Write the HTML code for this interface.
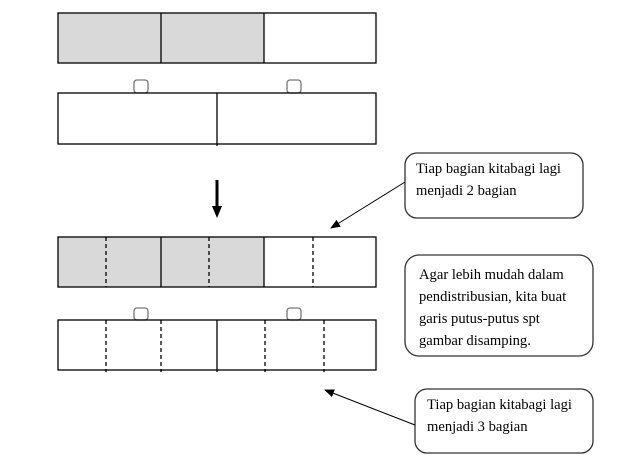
<!DOCTYPE html>
<html><head><style>
body{margin:0;background:#fff;width:641px;height:475px;overflow:hidden;position:relative;font-family:"Liberation Serif",serif;}
.t{position:absolute;font-size:14.6px;line-height:22px;color:#000;white-space:nowrap;}
</style></head><body>
<svg width="641" height="475" style="position:absolute;left:0;top:0">
<defs><marker id="a" markerWidth="10" markerHeight="8" refX="9" refY="4" orient="auto" markerUnits="userSpaceOnUse"><path d="M0,0 L10,4 L0,8z" fill="#000"/></marker></defs>
<g stroke="#000" stroke-width="1.3" fill="none">
<rect x="58" y="13" width="103" height="50" fill="#d9d9d9" stroke="none"/>
<rect x="161" y="13" width="103" height="50" fill="#d9d9d9" stroke="none"/>
<rect x="58" y="13" width="318" height="50"/>
<line x1="161" y1="13" x2="161" y2="63"/><line x1="264" y1="13" x2="264" y2="63"/>
<rect x="134" y="80" width="14" height="13" rx="3" stroke="#777"/>
<rect x="287" y="80" width="14" height="13" rx="3" stroke="#777"/>
<rect x="58" y="93" width="318" height="51"/>
<line x1="217" y1="93" x2="217" y2="146"/>
<rect x="58" y="237" width="206" height="50" fill="#d9d9d9" stroke="none"/>
<rect x="58" y="237" width="318" height="50"/>
<line x1="161" y1="237" x2="161" y2="287"/><line x1="264" y1="237" x2="264" y2="287"/>
<g stroke-dasharray="4,3"><line x1="106" y1="237" x2="106" y2="287"/><line x1="209" y1="237" x2="209" y2="287"/><line x1="313" y1="237" x2="313" y2="287"/></g>
<rect x="134" y="308" width="14" height="12" rx="3" stroke="#777"/>
<rect x="287" y="308" width="14" height="12" rx="3" stroke="#777"/>
<rect x="58" y="320" width="318" height="50"/>
<line x1="217" y1="320" x2="217" y2="372"/>
<g stroke-dasharray="4,3"><line x1="106" y1="320" x2="106" y2="372"/><line x1="161" y1="320" x2="161" y2="372"/><line x1="265" y1="320" x2="265" y2="372"/><line x1="324" y1="320" x2="324" y2="372"/></g>
<rect x="405" y="153" width="178" height="65" rx="12" stroke="#333"/>
<rect x="405" y="255" width="188" height="101" rx="14" stroke="#333"/>
<rect x="415" y="389" width="178" height="64" rx="12" stroke="#333"/>
<line x1="405" y1="182" x2="331" y2="228" stroke-width="1" marker-end="url(#a)"/>
<line x1="415" y1="425" x2="325" y2="390" stroke-width="1" marker-end="url(#a)"/>
</g>
<line x1="217" y1="180" x2="217" y2="208" stroke="#000" stroke-width="3"/>
<path d="M212,206 L222,206 L217,218z" fill="#000"/>
</svg>
<div class="t" style="left:416px;top:158px">Tiap bagian kitabagi lagi<br>menjadi 2 bagian</div>
<div class="t" style="left:419px;top:264px">Agar lebih mudah dalam<br>pendistribusian, kita buat<br>garis putus-putus spt<br>gambar disamping.</div>
<div class="t" style="left:427px;top:394px">Tiap bagian kitabagi lagi<br>menjadi 3 bagian</div>
</body></html>
